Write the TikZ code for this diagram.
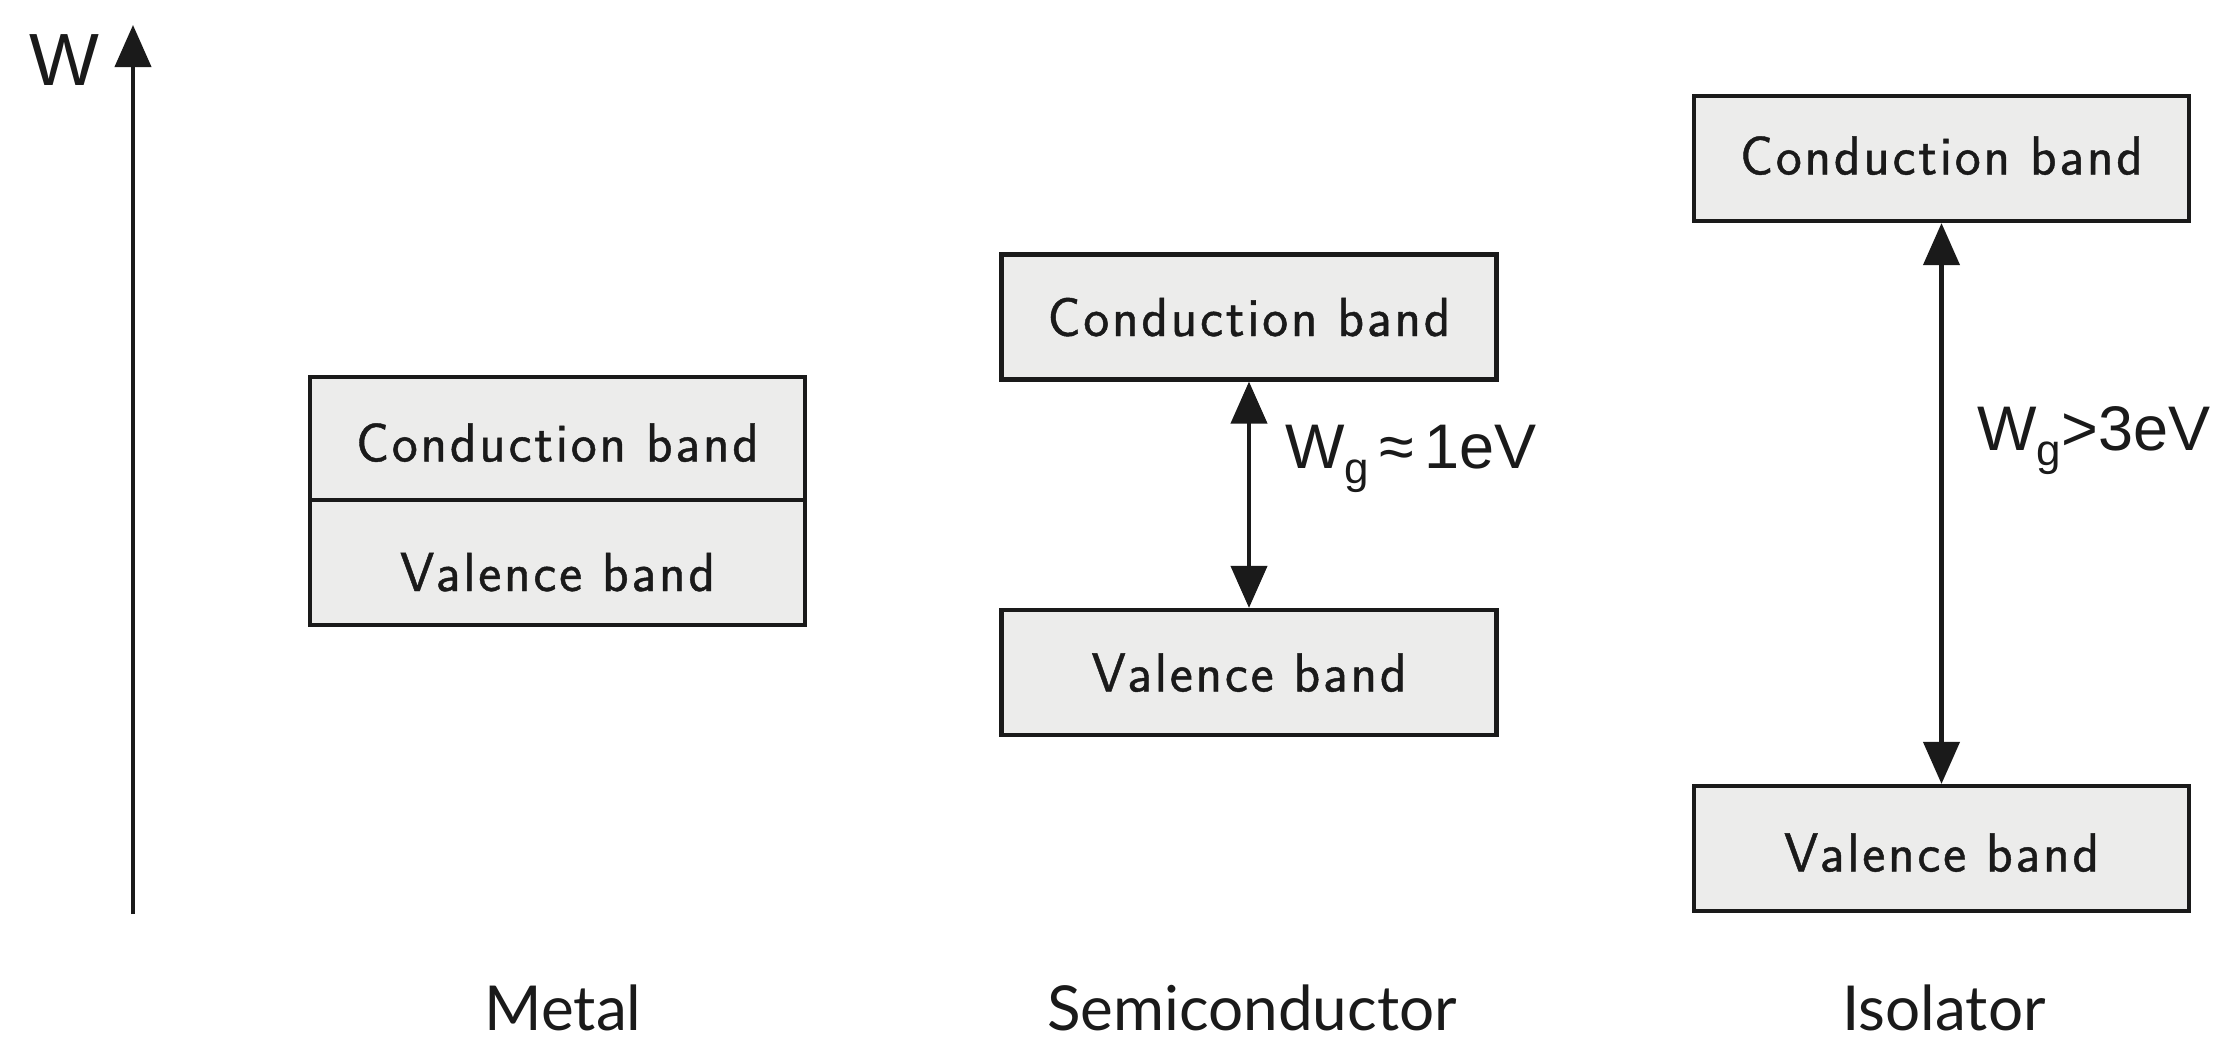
\documentclass[tikz,border=0pt]{standalone}
\usepackage{fontspec}
\usetikzlibrary{arrows.meta}
\newfontfamily\arialfont{Liberation Sans}
\newfontfamily\latofont{Lato}
\newfontfamily\boxfont{Latin Modern Sans}[LetterSpace=5,FakeBold=0.8]
\newcommand{\shiftedtext}[2]{\raisebox{#1}[19pt][0pt]{#2}}
\definecolor{bandgray}{HTML}{ECECEB}
\definecolor{inkc}{HTML}{1A1A1A}
\begin{document}
\begin{tikzpicture}[x=0.5pt,y=-0.5pt,
  band/.style={draw=inkc, line width=2.1pt, fill=bandgray, minimum width=247.5pt,
    minimum height=62.5pt, inner sep=0pt, text=inkc,
    font=\boxfont\fontsize{27.5}{30}\selectfont},
  tipk/.tip={Triangle[width=18pt,length=21pt]},
  gaparrow/.style={draw=inkc, line width=2.1pt, tipk-tipk},
  axisarrow/.style={draw=inkc, line width=2.1pt, -tipk},
  gaplabel/.style={anchor=base west, inner sep=0pt, text=inkc,
    font=\arialfont\fontsize{31.5}{34}\selectfont},
  matlabel/.style={anchor=base, inner sep=0pt, text=inkc,
    font=\latofont\fontsize{31}{34}\selectfont}]
\useasboundingbox (0,0) rectangle (2240,1050);
\fill[white] (0,0) rectangle (2240,1050);

% energy axis
\coordinate (axb) at (133,914);
\coordinate (axt) at (133,25);
\draw[axisarrow] (axb) -- (axt);
\node[inner sep=0pt, text=inkc, font=\arialfont\fontsize{37}{40}\selectfont] (wlab) at (64,60) {W};

% metal
\node[band, minimum height=61.5pt] (mc) at (557.5,438.5) {\shiftedtext{-2pt}{Conduction band}};
\node[band] (mv) at (557.5,562.5) {\shiftedtext{-4.75pt}{Valence band}};

% semiconductor
\node[band] (sc) at (1249,317) {\shiftedtext{0pt}{Conduction band}};
\node[band] (sv) at (1249,672.5) {\shiftedtext{0pt}{Valence band}};
\draw[gaparrow] (sv.north) -- (sc.south);
\node[gaplabel] (sg) at (1285,468) {W{\fontsize{22}{22}\selectfont\raisebox{-7.5pt}{g}}\,≈\,1eV};

% isolator
\node[band] (ic) at (1941.5,158.5) {\shiftedtext{1.5pt}{Conduction band}};
\node[band] (iv) at (1941.5,848.5) {\shiftedtext{-2pt}{Valence band}};
\draw[gaparrow] (iv.north) -- (ic.south);
\node[gaplabel] (ig) at (1977,450) {W{\fontsize{22}{22}\selectfont\raisebox{-7.5pt}{g}}>3eV};

% material labels
\node[matlabel] (lm) at (563,1030) {Metal};
\node[matlabel] (ls) at (1252,1030) {Semiconductor};
\node[matlabel] (li) at (1944,1030) {Isolator};
\end{tikzpicture}
\end{document}
